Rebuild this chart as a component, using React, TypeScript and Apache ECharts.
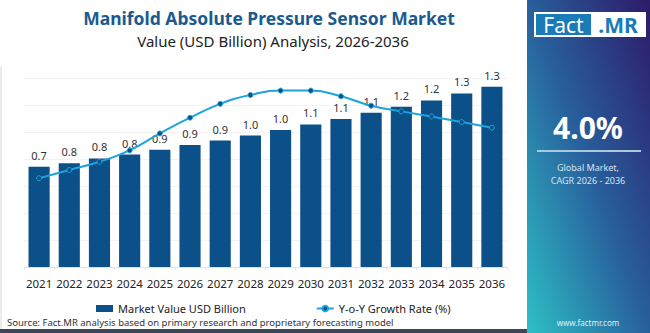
import React, { useEffect, useRef } from "react";
import * as echarts from "echarts";

const years = ["2021","2022","2023","2024","2025","2026","2027","2028","2029","2030","2031","2032","2033","2034","2035","2036"];
const marketValue = [0.742,0.769,0.804,0.833,0.868,0.903,0.937,0.974,1.014,1.056,1.096,1.143,1.187,1.234,1.286,1.336];
const yoyGrowth = [3.41,3.54,3.67,3.85,4.12,4.37,4.59,4.73,4.80,4.80,4.71,4.56,4.47,4.39,4.30,4.21];

const titleText = "Manifold Absolute Pressure Sensor Market";
const subtitleText = "Value (USD Billion) Analysis, 2026-2036";
const cagrText = "4.0%";
const cagrLabel1 = "Global Market,";
const cagrLabel2 = "CAGR 2026 - 2036";
const sourceText = "Source: Fact.MR analysis based on primary research and proprietary forecasting model";
const FONT = "'Noto Sans', sans-serif";

export default function App() {
  const ref = useRef<HTMLDivElement>(null);
  useEffect(() => {
    if (!ref.current) return;
    const chart = echarts.init(ref.current, undefined, { renderer: "svg" });
    const barColor = "#0b5088";
    const lineColor = "#1ea3da";
    chart.setOption({
      animation: false,
      textStyle: { fontFamily: FONT },
      grid: { left: 24, right: 143, top: 78, bottom: 66, containLabel: false },
      xAxis: {
        type: "category",
        data: years,
        axisLine: { lineStyle: { color: "#e2e2e2" } },
        axisTick: { show: true, lineStyle: { color: "#e2e2e2" }, length: 3 },
        axisLabel: { color: "#222", fontSize: 11.5, margin: 10, interval: 0, fontFamily: FONT },
      },
      yAxis: [
        {
          type: "value", min: 0, max: 1.4, interval: 0.2,
          axisLabel: { show: false }, axisLine: { show: false }, axisTick: { show: false },
          splitLine: { lineStyle: { color: "#f3f3f3" } },
        },
        {
          type: "value", min: 2, max: 5,
          axisLabel: { show: false }, axisLine: { show: false }, axisTick: { show: false },
          splitLine: { show: false },
        },
      ],
      legend: {
        bottom: 14,
        left: 91,
        itemGap: 70,
        textStyle: { color: "#222", fontSize: 11, fontFamily: FONT },
        data: [
          { name: "Market Value USD Billion", icon: "rect", itemStyle: { color: barColor } },
          { name: "Y-o-Y Growth Rate (%)" },
        ],
        itemWidth: 17,
        itemHeight: 7,
      },
      series: [
        {
          name: "Market Value USD Billion",
          type: "bar",
          data: marketValue,
          barWidth: "70%",
          itemStyle: { color: barColor },
          label: {
            show: true, position: "top", distance: 6, color: "#333", fontSize: 11, fontFamily: FONT,
            formatter: (p: any) => Number(p.value).toFixed(1),
          },
        },
        {
          name: "Y-o-Y Growth Rate (%)",
          type: "line",
          yAxisIndex: 1,
          data: yoyGrowth,
          smooth: true,
          symbol: "circle",
          symbolSize: 5,
          lineStyle: { color: lineColor, width: 2 },
          itemStyle: { color: barColor, borderColor: lineColor, borderWidth: 1 },
          z: 5,
        },
      ],
      graphic: [
        { type: "rect", z: -10, shape: { x: 0, y: 0, width: 527, height: 333 }, style: { fill: "#ffffff" } },
        { type: "line", z: -5, shape: { x1: 1, y1: 66, x2: 1, y2: 329 }, style: { stroke: "#d8d8d8", lineWidth: 1 } },
        {
          type: "line", z: 1, shape: { x1: 0, y1: 66, x2: 527, y2: 66 },
          style: {
            lineWidth: 2,
            stroke: new echarts.graphic.LinearGradient(0, 0, 1, 0, [
              { offset: 0, color: "#2f6f9e" },
              { offset: 1, color: "#1c4f86" },
            ]),
          },
        },
        { type: "rect", z: 1, shape: { x: 0, y: 329, width: 527, height: 4 }, style: { fill: "#3b4756" } },
        {
          type: "rect", z: 1, shape: { x: 527, y: 0, width: 123, height: 333 },
          style: {
            fill: new echarts.graphic.LinearGradient(1, 0, 0, 1, [
              { offset: 0, color: "#2e1a68" },
              { offset: 0.5, color: "#285f9c" },
              { offset: 1, color: "#2dc0c6" },
            ]),
          },
        },
        { type: "rect", z: 2, shape: { x: 534, y: 12, width: 112, height: 25 }, style: { fill: "#ffffff" } },
        { type: "rect", z: 3, shape: { x: 536, y: 14, width: 55, height: 21 }, style: { fill: "#1b7bb6" } },
        {
          type: "text", z: 4, x: 563.5, y: 25,
          style: { text: "Fact", fill: "#ffffff", fontSize: 21, fontFamily: FONT, align: "center", verticalAlign: "middle" },
        },
        {
          type: "text", z: 4, x: 618, y: 25,
          style: { text: ".MR", fill: "#1b7bb6", fontSize: 21, fontWeight: "bold", fontFamily: FONT, align: "center", verticalAlign: "middle" },
        },
        {
          type: "text", z: 4, x: 588, y: 127,
          style: { text: cagrText, fill: "#ffffff", fontSize: 30, fontWeight: "bold", fontFamily: FONT, align: "center", verticalAlign: "middle" },
        },
        { type: "line", z: 4, shape: { x1: 537, y1: 151, x2: 641, y2: 151 }, style: { stroke: "#a9c9e0", lineWidth: 2 } },
        {
          type: "text", z: 4, x: 588, y: 167,
          style: { text: cagrLabel1, fill: "#d6e4f2", fontSize: 9, fontFamily: FONT, align: "center", verticalAlign: "middle" },
        },
        {
          type: "text", z: 4, x: 588, y: 180,
          style: { text: cagrLabel2, fill: "#d6e4f2", fontSize: 9, fontFamily: FONT, align: "center", verticalAlign: "middle" },
        },
        {
          type: "text", z: 4, x: 588, y: 322,
          style: { text: "www.factmr.com", fill: "#e0eef5", fontSize: 8, fontFamily: FONT, align: "center", verticalAlign: "middle" },
        },
        {
          type: "text", z: 4, x: 269, y: 18,
          style: { text: titleText, fill: "#1b5a8e", fontSize: 17.5, fontWeight: "bold", fontFamily: FONT, align: "center", verticalAlign: "middle" },
        },
        {
          type: "text", z: 4, x: 273, y: 41,
          style: { text: subtitleText, fill: "#222", fontSize: 15, fontFamily: FONT, align: "center", verticalAlign: "middle" },
        },
        {
          type: "text", z: 4, x: 7, y: 322,
          style: { text: sourceText, fill: "#333", fontSize: 9.5, fontFamily: FONT, align: "left", verticalAlign: "middle" },
        },
      ],
    });
    return () => chart.dispose();
  }, []);
  return (
    <div
      ref={ref}
      style={{ position: "absolute", left: 0, top: 0, width: 650, height: 333, background: "#fff" }}
    />
  );
}
